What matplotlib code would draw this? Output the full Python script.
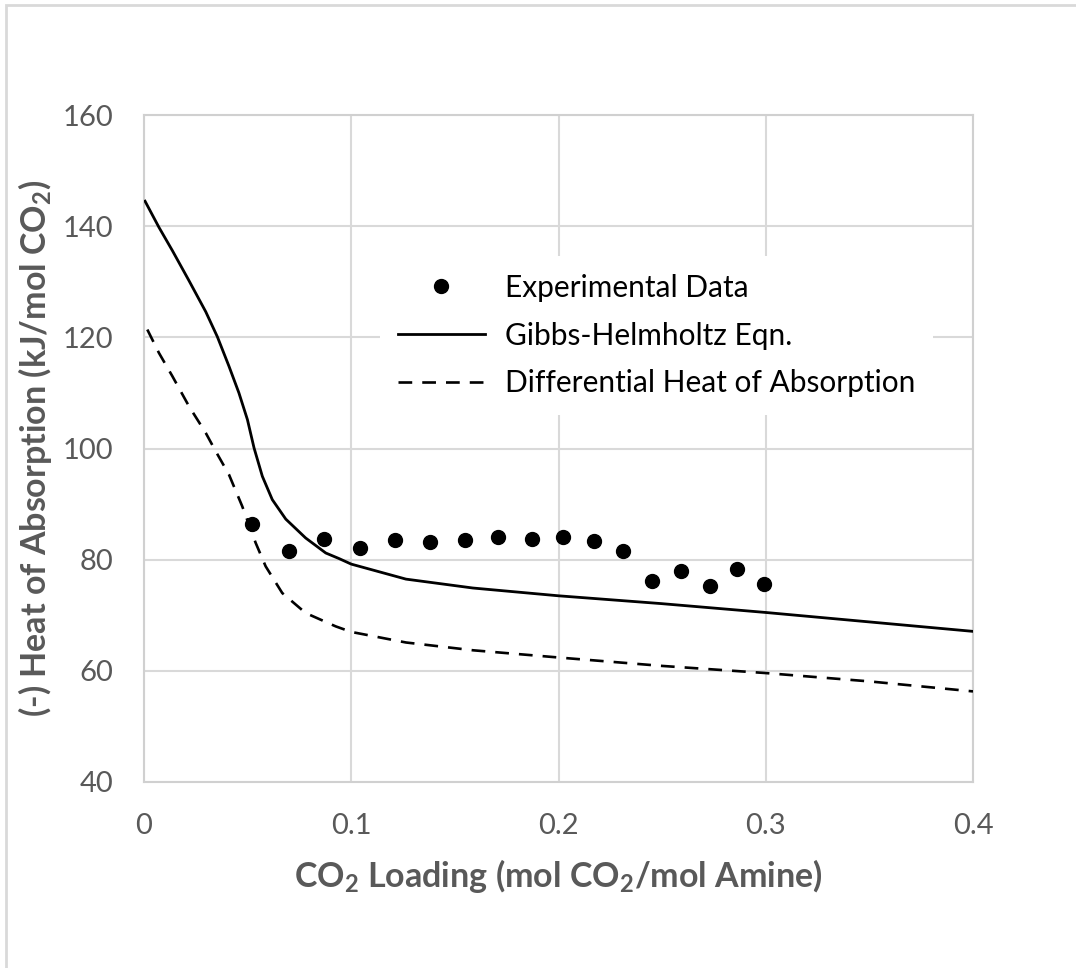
import matplotlib
matplotlib.use("Agg")
import matplotlib.pyplot as plt
from matplotlib.patches import Rectangle

# experimental points
exp_x = [0.052, 0.070, 0.087, 0.104, 0.121, 0.138, 0.155, 0.171, 0.187,
         0.202, 0.217, 0.231, 0.245, 0.259, 0.273, 0.286, 0.299]
exp_y = [86.5, 81.5, 83.7, 82.1, 83.5, 83.1, 83.5, 84.1, 83.7,
         84.1, 83.3, 81.5, 76.1, 77.9, 75.2, 78.4, 75.7]

# Gibbs-Helmholtz curve
gh_x = [0.0005, 0.0072, 0.0137, 0.0217, 0.0298, 0.0354, 0.0410, 0.0458, 0.0499,
        0.0531, 0.0571, 0.0619, 0.0684, 0.0780, 0.0877, 0.0941, 0.100, 0.1264,
        0.1587, 0.200, 0.2494, 0.300, 0.350, 0.400]
gh_y = [144.5, 139.8, 135.6, 130.2, 124.6, 120.1, 114.8, 110.0, 105.2,
        100.1, 95.0, 90.8, 87.3, 83.9, 81.2, 80.2, 79.2, 76.5,
        74.9, 73.5, 72.1, 70.5, 68.8, 67.1]

# differential heat of absorption
dh_x = [0.0016, 0.0072, 0.0137, 0.0217, 0.0298, 0.0346, 0.0410, 0.0474, 0.0539,
        0.0587, 0.0667, 0.0780, 0.0925, 0.100, 0.1264, 0.1587, 0.200, 0.2494,
        0.300, 0.350, 0.400]
dh_y = [121.4, 117.2, 113.0, 107.6, 102.8, 99.5, 95.3, 89.6, 83.0,
        78.8, 74.0, 70.4, 68.0, 67.0, 65.1, 63.7, 62.4, 60.9,
        59.6, 58.1, 56.3]

plt.rcParams['font.family'] = ['Lato', 'DejaVu Sans']
plt.rcParams['mathtext.default'] = 'regular'

grey = '#595959'
fig = plt.figure(figsize=(10.76, 9.68), dpi=100)
ax = fig.add_axes([144 / 1076, 1 - 782 / 968, (973 - 144) / 1076, (782 - 115) / 968])

# outer chart border
fig.patches.append(Rectangle((6 / 1076, -0.1), 2, 1 - 5 / 968 + 0.1, transform=fig.transFigure,
                             fill=False, edgecolor='#d9d9d9', lw=2))

ax.plot(exp_x, exp_y, 'o', color='black', markersize=10, label='Experimental Data', zorder=3)
ax.plot(gh_x, gh_y, '-', color='black', lw=2.0, solid_joinstyle='round',
        label='Gibbs-Helmholtz Eqn.', zorder=3)
ax.plot(dh_x, dh_y, color='black', lw=1.9, dashes=(5.2, 3.8),
        label='Differential Heat of Absorption', zorder=3)

ax.set_xlim(0, 0.4)
ax.set_ylim(40, 160)
ax.set_xticks([0, 0.1, 0.2, 0.3, 0.4])
ax.set_xticklabels(['0', '0.1', '0.2', '0.3', '0.4'])
ax.set_yticks(range(40, 161, 20))
ax.grid(True, color='#d9d9d9', lw=1.5)
ax.set_axisbelow(True)
for s in ax.spines.values():
    s.set_color('#d0d0d0')
    s.set_linewidth(1.5)
ax.tick_params(length=0, labelsize=21, labelcolor=grey, pad=22)

ax.set_xlabel('CO$_2$ Loading (mol CO$_2$/mol Amine)', fontsize=24.5, fontweight='bold',
              color=grey, labelpad=13)
ax.set_ylabel('(-) Heat of Absorption (kJ/mol CO$_2$)', fontsize=24.5, fontweight='bold',
              color=grey, labelpad=6)

leg = ax.legend(loc='upper left', bbox_to_anchor=(0.267, 0.811), fontsize=21.5, frameon=True,
                handlelength=2.9, handletextpad=0.67, labelspacing=0.66, borderpad=0.6)
leg.get_frame().set_facecolor('white')
leg.get_frame().set_edgecolor('none')
leg.get_frame().set_alpha(1)

fig.savefig('out.png', dpi=100)
